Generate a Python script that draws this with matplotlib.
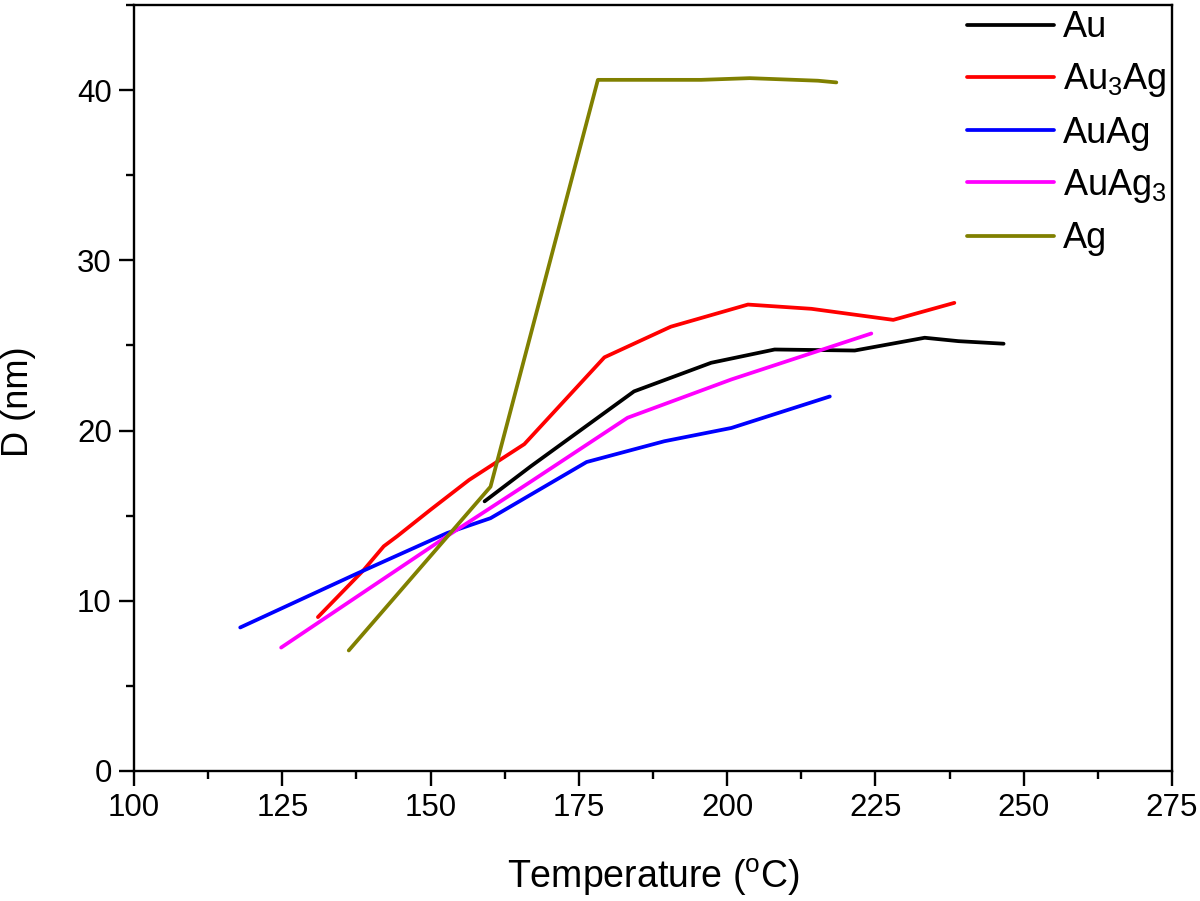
import matplotlib
matplotlib.use("Agg")
import matplotlib.pyplot as plt
from matplotlib.ticker import MultipleLocator

plt.rcParams['font.family'] = ['Liberation Sans', 'DejaVu Sans']
plt.rcParams['mathtext.fontset'] = 'custom'
plt.rcParams['mathtext.rm'] = 'Liberation Sans'
plt.rcParams['mathtext.it'] = 'Liberation Sans'

# Data (temperature in °C, D in nm)
au_x = [159.1, 166.9, 184.3, 197.3, 208.0, 221.5, 233.3, 239.0, 246.6]
au_y = [15.84, 17.9, 22.3, 23.98, 24.76, 24.7, 25.45, 25.25, 25.1]

au3ag_x = [131.0, 138.7, 142.1, 144.4, 150.0, 156.5, 165.8, 179.3, 190.5, 203.5, 214.2, 228.0, 238.3]
au3ag_y = [9.04, 11.8, 13.2, 13.8, 15.35, 17.1, 19.2, 24.3, 26.1, 27.4, 27.15, 26.5, 27.5]

auag_x = [117.9, 137.6, 152.8, 160.1, 176.3, 189.4, 200.7, 217.3]
auag_y = [8.43, 11.6, 13.98, 14.85, 18.15, 19.37, 20.15, 22.0]

auag3_x = [124.8, 152.8, 166.9, 183.2, 200.7, 224.3]
auag3_y = [7.25, 13.8, 17.0, 20.75, 23.0, 25.7]

ag_x = [136.2, 160.1, 178.2, 195.6, 203.8, 215.3, 218.4]
ag_y = [7.08, 16.7, 40.6, 40.6, 40.7, 40.55, 40.45]

series = [
    (au_x, au_y, 'Au', '#000000'),
    (au3ag_x, au3ag_y, 'Au$_3$Ag', '#ff0000'),
    (auag_x, auag_y, 'AuAg', '#0000ff'),
    (auag3_x, auag3_y, 'AuAg$_3$', '#ff00ff'),
    (ag_x, ag_y, 'Ag', '#808000'),
]

fig = plt.figure(figsize=(12, 9.01), dpi=100)
ax = fig.add_axes([0.1117, 0.1443, 0.865, 0.8502])

for x, y, lab, c in series:
    ax.plot(x, y, color=c, lw=2.7, label=lab, solid_capstyle='round')

ax.set_xlim(100, 275)
ax.set_ylim(0, 45)
ax.xaxis.set_major_locator(MultipleLocator(25))
ax.xaxis.set_minor_locator(MultipleLocator(12.5))
ax.yaxis.set_major_locator(MultipleLocator(10))
ax.yaxis.set_minor_locator(MultipleLocator(5))

for s in ax.spines.values():
    s.set_linewidth(1.7)
ax.tick_params(which='both', direction='out', top=False, right=False, width=1.7)
ax.tick_params(which='major', length=11, labelsize=22.5, pad=5)
ax.tick_params(which='minor', length=6)

ax.set_xlabel('Temperature ($^{\\rm o}$C)', fontsize=27, labelpad=24)
ax.set_ylabel('D (nm)', fontsize=26)
ax.yaxis.set_label_coords(-0.094, 0.482)

leg = ax.legend(loc='upper left', bbox_to_anchor=(0.789, 1.012), frameon=False,
                fontsize=26, handlelength=2.4, handletextpad=0.25,
                labelspacing=0.45, borderaxespad=0)

fig.savefig('out.png', dpi=100)
